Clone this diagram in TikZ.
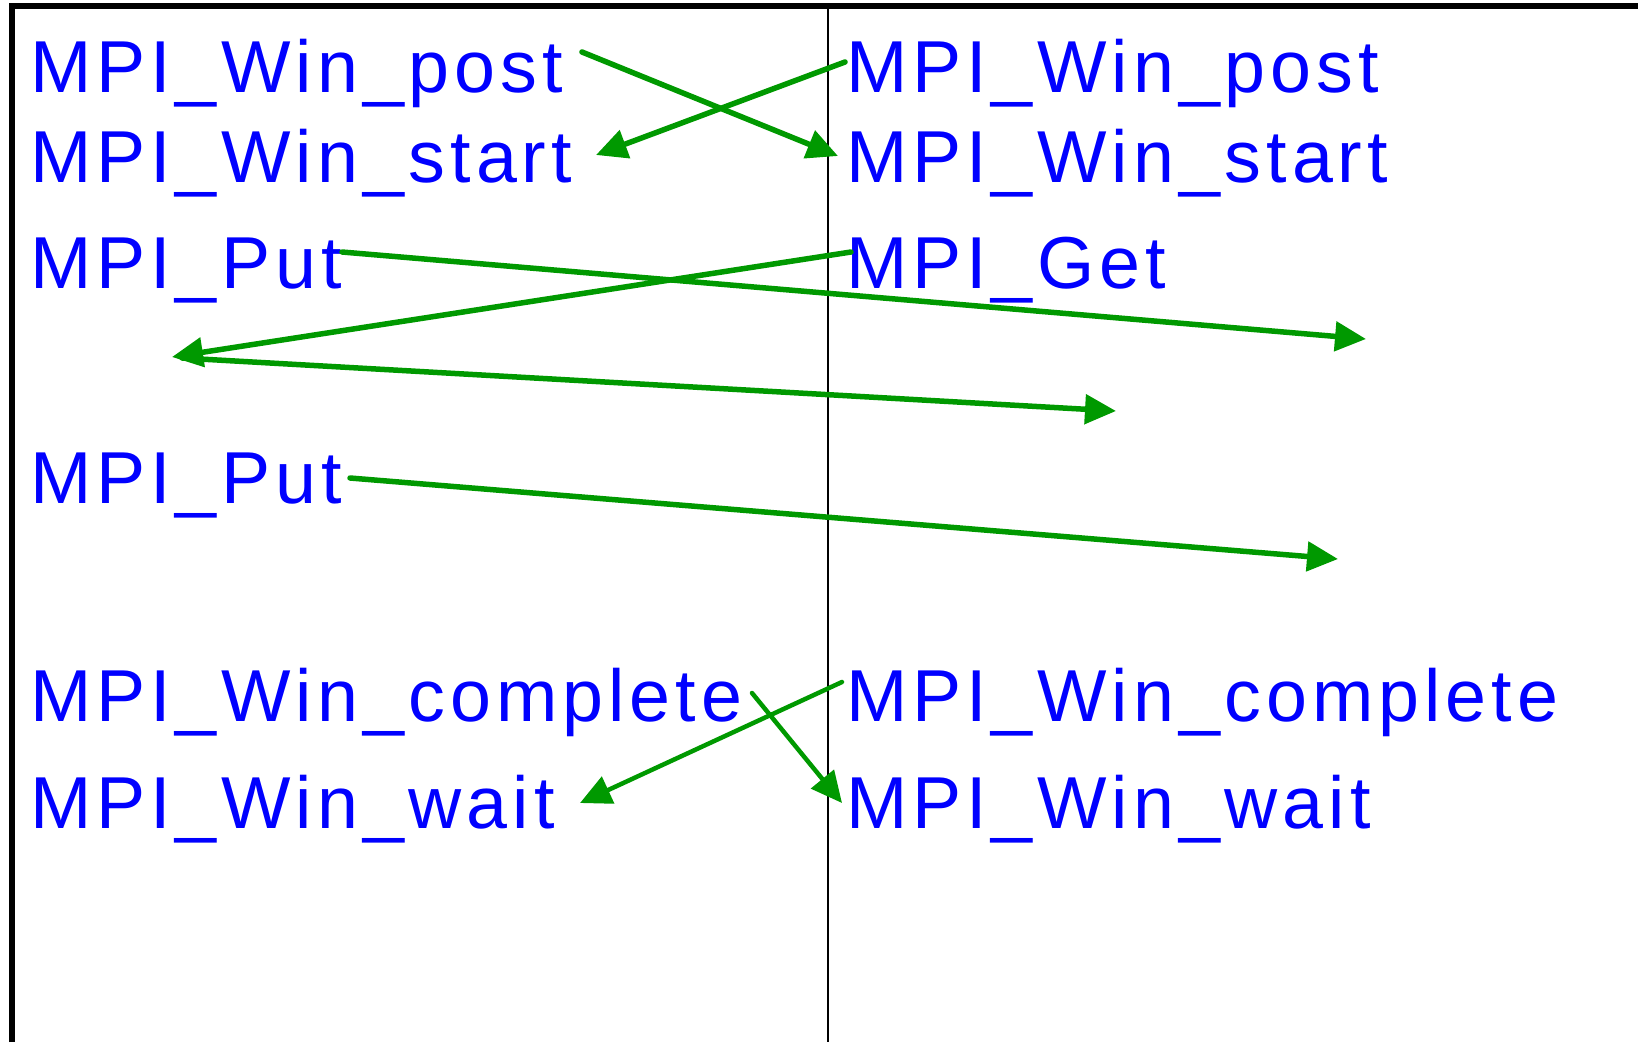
\documentclass[tikz,border=0pt]{standalone}
\usepackage{fontspec}
\setmainfont{Liberation Sans}[LetterSpace=6.7]
\usetikzlibrary{arrows.meta}
\definecolor{txtblue}{RGB}{0,0,255}
\definecolor{arrgreen}{RGB}{0,153,0}
\begin{document}
\begin{tikzpicture}[x=1pt,y=1pt,
  lbl/.style={anchor=base west,inner sep=0pt,outer sep=0pt,text=txtblue,font=\fontsize{73.6}{80}\selectfont},
  msg/.style={draw=arrgreen,line width=5.5pt,line cap=round,-{Triangle[length=31pt,width=29pt]}},
  msgthin/.style={msg,line width=4.5pt},
  frame/.style={draw=black,line width=6pt},
  lifeline/.style={draw=black,line width=1.6pt}]
\useasboundingbox (0,0) rectangle (1638,-1042);
\path[fill=white] (0,0) rectangle (1638,-1042);
% frame and divider
\draw[frame] (12,-1042) -- (12,-6) -- (1638,-6);
\draw[lifeline] (828,-6) -- (828,-1042);
% left column
\node[lbl] (lpost) at (30,-92) {MPI\_Win\_post};
\node[lbl] (lstart) at (30,-182) {MPI\_Win\_start};
\node[lbl] (lput) at (30,-288) {MPI\_Put};
\node[lbl] (lput2) at (30,-503) {MPI\_Put};
\node[lbl] (lcomplete) at (30,-721) {MPI\_Win\_complete};
\node[lbl] (lwait) at (30,-828) {MPI\_Win\_wait};
% right column
\node[lbl] (rpost) at (846,-92) {MPI\_Win\_post};
\node[lbl] (rstart) at (846,-182) {MPI\_Win\_start};
\node[lbl] (rget) at (846,-288) {MPI\_Get};
\node[lbl] (rcomplete) at (846,-721) {MPI\_Win\_complete};
\node[lbl] (rwait) at (846,-828) {MPI\_Win\_wait};
% connector end points
\coordinate (lpostout) at (582,-52);
\coordinate (rstartin) at (838,-156);
\coordinate (rpostout) at (845,-62);
\coordinate (lstartin) at (596,-155);
\coordinate (lputout) at (342,-252);
\coordinate (putend) at (1366,-339);
\coordinate (rgetout) at (851,-252);
\coordinate (getreq) at (172,-357);
\coordinate (getreplyout) at (182,-358);
\coordinate (getreply) at (1116,-411);
\coordinate (lput2out) at (350,-478);
\coordinate (put2end) at (1338,-559);
\coordinate (lcompout) at (752,-693);
\coordinate (rwaitin) at (842,-803);
\coordinate (rcompout) at (842,-682);
\coordinate (lwaitin) at (580,-803);
% connectors
\draw[msg] (lpostout) -- (rstartin);
\draw[msg] (rpostout) -- (lstartin);
\draw[msg] (lputout) -- (putend);
\draw[msg] (rgetout) -- (getreq);
\draw[msg] (getreplyout) -- (getreply);
\draw[msg] (lput2out) -- (put2end);
\draw[msgthin] (lcompout) -- (rwaitin);
\draw[msgthin] (rcompout) -- (lwaitin);
\end{tikzpicture}
\end{document}
